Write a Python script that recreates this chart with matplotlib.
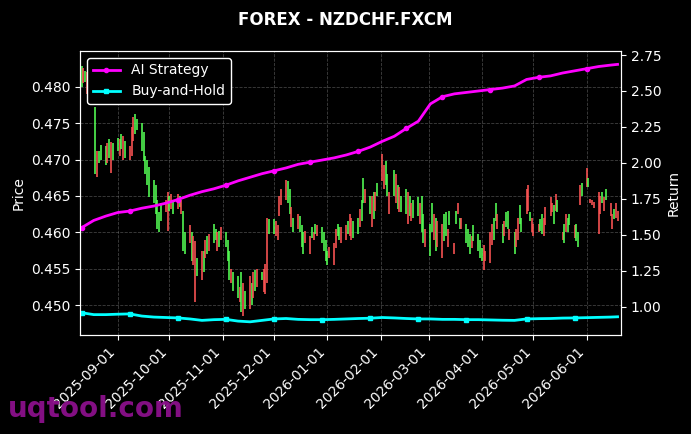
import matplotlib
matplotlib.use("Agg")
import matplotlib.pyplot as plt
import matplotlib.dates as mdates
import numpy as np
import pandas as pd

# ---- data -------------------------------------------------------------
start_date = "2025-08-11"
end_date = "2026-06-19"

# candle opens / closes, one row per week (Mon..Fri)
opens = [
    0.4800, 0.4826, 0.4806, 0.4820, 0.4792,
    0.4782, 0.4680, 0.4712, 0.4695, 0.4700,
    0.4692, 0.4722, 0.4702, 0.4724, 0.4700,
    0.4712, 0.4728, 0.4715, 0.4732, 0.4702,
    0.4718, 0.4745, 0.4758, 0.4735, 0.4740,
    0.4712, 0.4698, 0.4680, 0.4665, 0.4648,
    0.4640, 0.4625, 0.4605, 0.4600, 0.4615,
    0.4645, 0.4655, 0.4630, 0.4652, 0.4625,
    0.4652, 0.4635, 0.4645, 0.4575, 0.4570,
    0.4610, 0.4560, 0.4595, 0.4588, 0.4540,
    0.4575, 0.4545, 0.4590, 0.4570, 0.4598,
    0.4585, 0.4590, 0.4600, 0.4580, 0.4608,
    0.4580, 0.4560, 0.4535, 0.4550, 0.4520,
    0.4510, 0.4525, 0.4490, 0.4530, 0.4495,
    0.4540, 0.4500, 0.4545, 0.4520, 0.4550,
    0.4535, 0.4550, 0.4556, 0.4620, 0.4598,
    0.4598, 0.4615, 0.4610, 0.4650, 0.4660,
    0.4672, 0.4640, 0.4625, 0.4635, 0.4600,
    0.4625, 0.4600, 0.4580, 0.4570, 0.4602,
    0.4595, 0.4592, 0.4600, 0.4598, 0.4610,
    0.4585, 0.4575, 0.4560, 0.4555, 0.4580,
    0.4585, 0.4605, 0.4595, 0.4590, 0.4608,
    0.4610, 0.4598, 0.4625, 0.4620, 0.4592,
    0.4598, 0.4632, 0.4615, 0.4640, 0.4660,
    0.4625, 0.4650, 0.4618, 0.4655, 0.4650,
    0.4708, 0.4692, 0.4665, 0.4650, 0.4655,
    0.4650, 0.4680, 0.4632, 0.4662, 0.4628,
    0.4625, 0.4655, 0.4622, 0.4640, 0.4620,
    0.4622, 0.4640, 0.4600, 0.4585, 0.4605,
    0.4568, 0.4600, 0.4625, 0.4575, 0.4615,
    0.4612, 0.4588, 0.4595, 0.4605, 0.4610,
    0.4585, 0.4612, 0.4640, 0.4605, 0.4620,
    0.4585, 0.4580, 0.4570, 0.4595, 0.4588,
    0.4575, 0.4565, 0.4560, 0.4582, 0.4575,
    0.4600, 0.4612, 0.4590, 0.4615, 0.4625,
    0.4585, 0.4615, 0.4608, 0.4605, 0.4605,
    0.4570, 0.4605, 0.4620, 0.4612, 0.4600,
    0.4660, 0.4665, 0.4615, 0.4620, 0.4612,
    0.4612, 0.4602, 0.4598, 0.4620, 0.4635,
    0.4648, 0.4640, 0.4612, 0.4652, 0.4628,
    0.4600, 0.4585, 0.4625, 0.4600, 0.4610,
    0.4610, 0.4588, 0.4580, 0.4665, 0.4650,
    0.4688, 0.4662, 0.4646, 0.4644, 0.4642,
    0.4655, 0.4650, 0.4640, 0.4648, 0.4645,
    0.4640, 0.4625, 0.4618, 0.4640, 0.4630,
]
closes = [
    0.4828, 0.4805, 0.4822, 0.4790, 0.4812,
    0.4800, 0.4772, 0.4676, 0.4712, 0.4720,
    0.4718, 0.4695, 0.4728, 0.4682, 0.4722,
    0.4730, 0.4705, 0.4735, 0.4700, 0.4725,
    0.4700, 0.4705, 0.4725, 0.4762, 0.4755,
    0.4750, 0.4738, 0.4705, 0.4700, 0.4690,
    0.4672, 0.4665, 0.4645, 0.4628, 0.4640,
    0.4628, 0.4602, 0.4650, 0.4632, 0.4645,
    0.4632, 0.4650, 0.4625, 0.4630, 0.4600,
    0.4585, 0.4600, 0.4555, 0.4505, 0.4565,
    0.4535, 0.4575, 0.4565, 0.4595, 0.4575,
    0.4612, 0.4605, 0.4575, 0.4602, 0.4590,
    0.4600, 0.4590, 0.4575, 0.4530, 0.4545,
    0.4540, 0.4505, 0.4545, 0.4485, 0.4520,
    0.4495, 0.4530, 0.4510, 0.4548, 0.4525,
    0.4545, 0.4518, 0.4516, 0.4530, 0.4618,
    0.4618, 0.4595, 0.4590, 0.4622, 0.4638,
    0.4645, 0.4670, 0.4660, 0.4608, 0.4620,
    0.4605, 0.4622, 0.4610, 0.4600, 0.4585,
    0.4570, 0.4608, 0.4590, 0.4612, 0.4595,
    0.4608, 0.4600, 0.4590, 0.4575, 0.4565,
    0.4555, 0.4578, 0.4612, 0.4608, 0.4585,
    0.4590, 0.4615, 0.4595, 0.4590, 0.4615,
    0.4620, 0.4608, 0.4645, 0.4675, 0.4640,
    0.4650, 0.4608, 0.4655, 0.4630, 0.4668,
    0.4670, 0.4660, 0.4698, 0.4680, 0.4625,
    0.4686, 0.4640, 0.4665, 0.4628, 0.4650,
    0.4660, 0.4612, 0.4650, 0.4615, 0.4645,
    0.4648, 0.4612, 0.4650, 0.4625, 0.4580,
    0.4612, 0.4640, 0.4590, 0.4620, 0.4580,
    0.4565, 0.4625, 0.4628, 0.4580, 0.4630,
    0.4570, 0.4630, 0.4625, 0.4620, 0.4605,
    0.4612, 0.4605, 0.4598, 0.4578, 0.4610,
    0.4598, 0.4590, 0.4578, 0.4548, 0.4560,
    0.4558, 0.4582, 0.4620, 0.4640, 0.4605,
    0.4612, 0.4595, 0.4628, 0.4630, 0.4590,
    0.4600, 0.4580, 0.4590, 0.4638, 0.4620,
    0.4625, 0.4630, 0.4628, 0.4600, 0.4595,
    0.4600, 0.4618, 0.4625, 0.4595, 0.4610,
    0.4622, 0.4628, 0.4638, 0.4630, 0.4645,
    0.4590, 0.4612, 0.4600, 0.4620, 0.4625,
    0.4592, 0.4612, 0.4600, 0.4638, 0.4668,
    0.4662, 0.4675, 0.4640, 0.4638, 0.4634,
    0.4598, 0.4625, 0.4656, 0.4630, 0.4660,
    0.4622, 0.4605, 0.4632, 0.4620, 0.4615,
]

# weekly equity curves (value at each Monday, plus final day)
ai_strategy = [
    1.550, 1.600, 1.630, 1.655, 1.665, 1.685, 1.700, 1.720, 1.745, 1.775,
    1.800, 1.820, 1.845, 1.875, 1.900, 1.925, 1.945, 1.965, 1.990, 2.005,
    2.020, 2.035, 2.055, 2.080, 2.110, 2.150, 2.185, 2.240, 2.290, 2.410,
    2.460, 2.480, 2.490, 2.500, 2.510, 2.520, 2.535, 2.580, 2.595, 2.605,
    2.625, 2.640, 2.655, 2.670, 2.680, 2.685,
]
buy_and_hold = [
    0.958, 0.945, 0.945, 0.948, 0.950, 0.935, 0.928, 0.925, 0.922, 0.915,
    0.905, 0.910, 0.912, 0.900, 0.895, 0.905, 0.915, 0.918, 0.912, 0.910,
    0.910, 0.912, 0.915, 0.918, 0.920, 0.925, 0.922, 0.918, 0.915, 0.915,
    0.912, 0.912, 0.910, 0.910, 0.908, 0.906, 0.905, 0.915, 0.917, 0.918,
    0.921, 0.922, 0.924, 0.926, 0.928, 0.930,
]

# ---- figure -----------------------------------------------------------
bg = "black"
fig = plt.figure(figsize=(6.91, 4.34), dpi=100, facecolor=bg)
ax = fig.add_axes([0.1158, 0.228, 0.7829, 0.6545], facecolor=bg)
ax2 = ax.twinx()

dates = pd.bdate_range(start_date, end_date)
n = min(len(dates), len(opens), len(closes))
d = dates[:n]
o = np.array(opens[:n])
c = np.array(closes[:n])
up = c >= o
col = np.where(up, "#55ff55", "#ff5555")
ax.vlines(d, np.minimum(o, c), np.maximum(o, c), colors=col, linewidth=1.15)

wdates = list(pd.date_range(start_date, end_date, freq="W-MON")) + [pd.Timestamp(end_date)]
wdates = wdates[:len(ai_strategy)]
ax2.plot(wdates, ai_strategy, color="#ff00ff", linewidth=2, marker="o",
         markersize=3, markevery=0.08, label="AI Strategy")
ax2.plot(wdates, buy_and_hold, color="#00ffff", linewidth=2, marker="s",
         markersize=3, markevery=0.08, label="Buy-and-Hold")

ax.set_xlim(pd.Timestamp("2025-08-10"), pd.Timestamp("2026-06-21"))
ax.set_ylim(0.4459, 0.4849)
ax2.set_ylim(0.803, 2.778)
ax.set_yticks([0.450, 0.455, 0.460, 0.465, 0.470, 0.475, 0.480])
ax2.set_yticks([1.00, 1.25, 1.50, 1.75, 2.00, 2.25, 2.50, 2.75])

ax.xaxis.set_major_locator(mdates.MonthLocator())
ax.xaxis.set_major_formatter(mdates.DateFormatter("%Y-%m-%d"))
for lbl in ax.get_xticklabels():
    lbl.set_rotation(45)
    lbl.set_ha("right")

for a in (ax, ax2):
    a.tick_params(colors="white", labelsize=10)
    for s in a.spines.values():
        s.set_color("white")
ax.grid(True, color="gray", linestyle="--", linewidth=0.6, alpha=0.5)

ax.set_ylabel("Price", color="white", fontsize=10)
ax2.set_ylabel("Return", color="white", fontsize=10)
fig.suptitle("FOREX - NZDCHF.FXCM", color="white", fontsize=12,
             fontweight="bold", y=0.975)

leg = ax2.legend(loc="upper left", facecolor="black", edgecolor="white",
                 fontsize=10, framealpha=1)
for t in leg.get_texts():
    t.set_color("white")

fig.text(0.012, 0.04, "uqtool.com", color="#8b108b", fontsize=20,
         fontweight="bold", alpha=0.95)

fig.savefig("out.png", dpi=100, facecolor=bg)
